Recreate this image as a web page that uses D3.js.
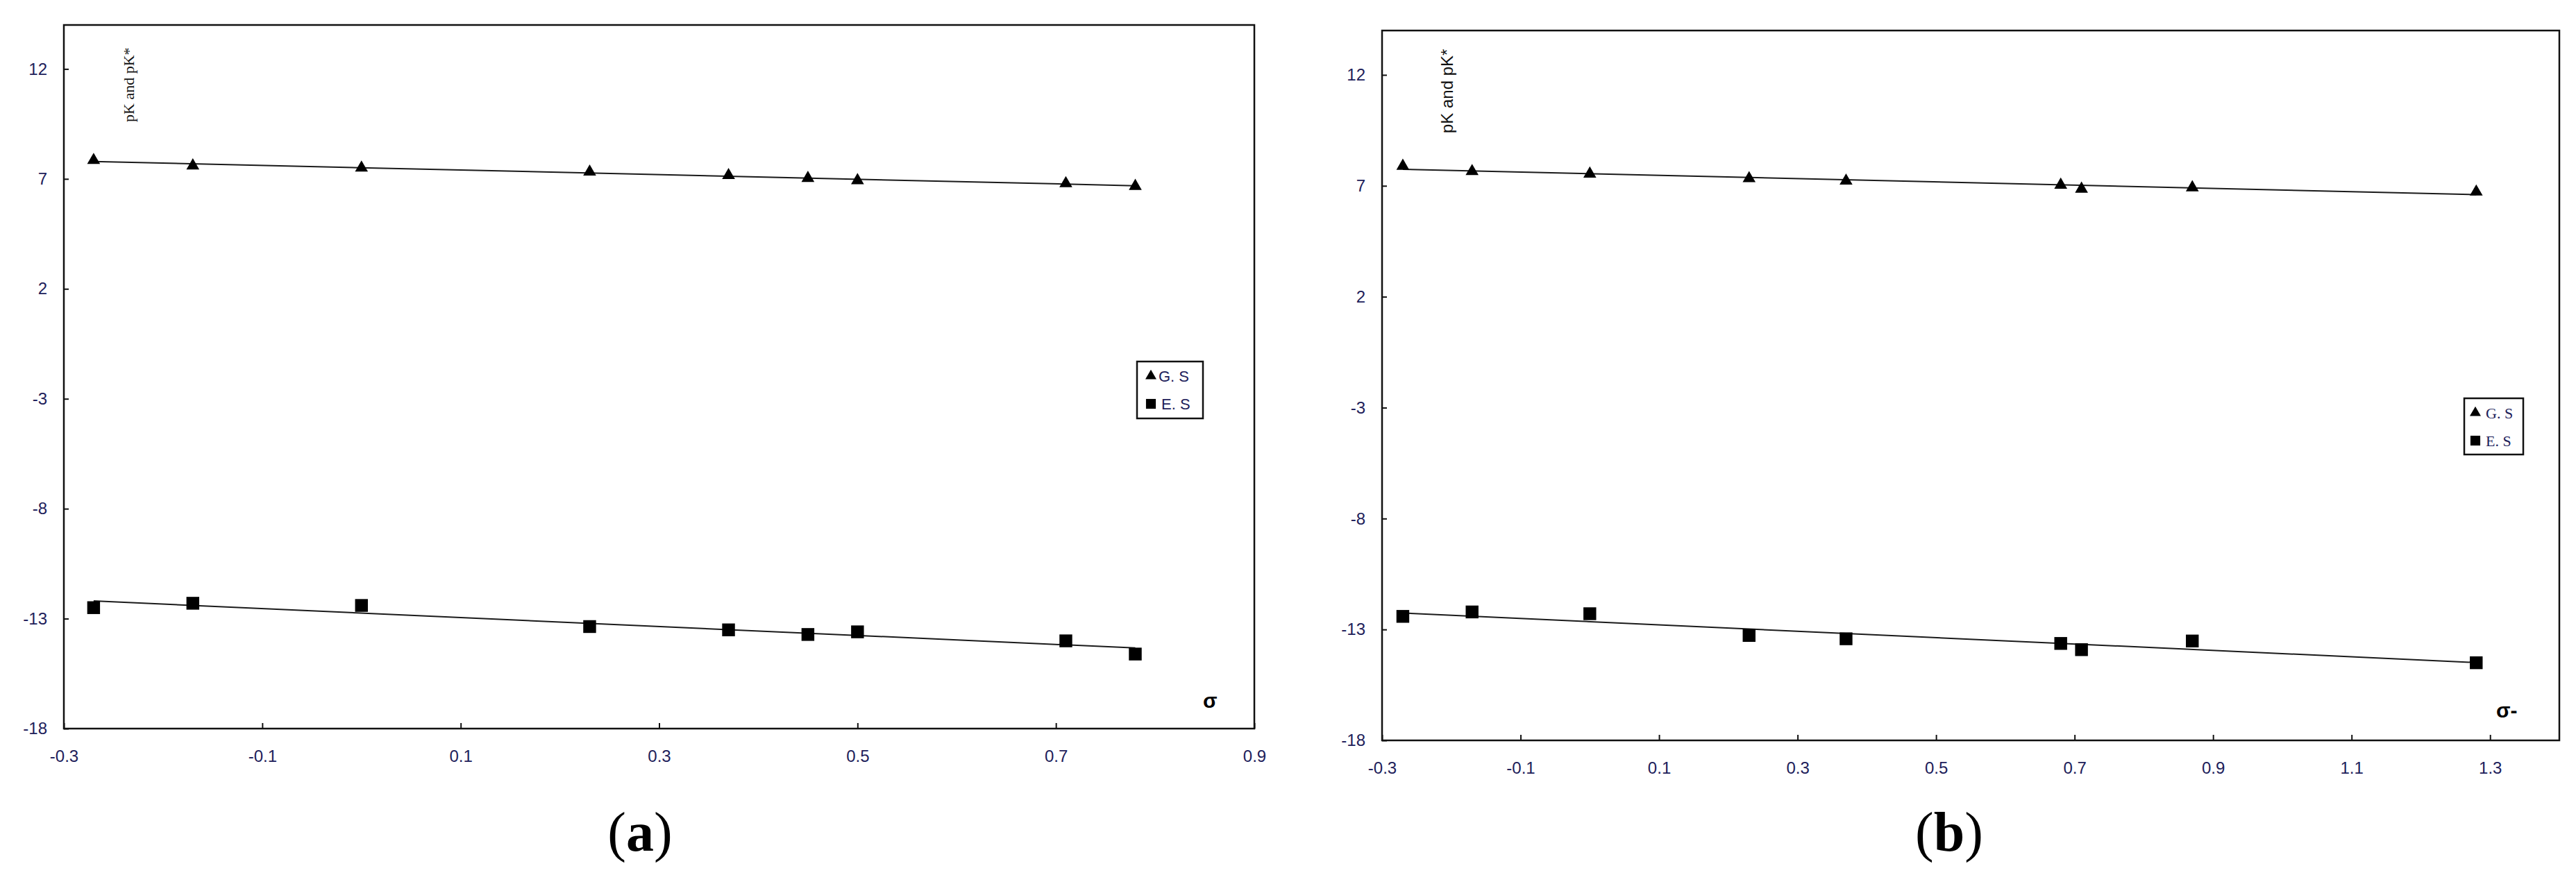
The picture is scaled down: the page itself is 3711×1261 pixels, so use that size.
<!DOCTYPE html>
<html>
<head>
<meta charset="utf-8">
<script src="https://cdn.jsdelivr.net/npm/d3@7"></script>
<style>
  html, body { margin: 0; padding: 0; background: #fff; }
  .tick text { font-family: "Liberation Sans", Arial, sans-serif; font-size: 24px; fill: #20205a; }
</style>
</head>
<body>
<svg id="chart" width="3711" height="1261"></svg>
<script>
// sigma constants (x) for the two plots
const sigmaA = [-0.27, -0.17, 0, 0.23, 0.37, 0.45, 0.50, 0.71, 0.78];
const sigmaB = [-0.27, -0.17, 0, 0.23, 0.37, 0.68, 0.71, 0.87, 1.28];

// pK (ground state) and pK* (excited state)
const groundA  = [7.85, 7.60, 7.50, 7.32, 7.16, 7.03, 6.93, 6.79, 6.67];
const excitedA = [-12.50, -12.30, -12.40, -13.36, -13.51, -13.72, -13.60, -14.01, -14.61];
const groundB  = [7.89, 7.65, 7.54, 7.33, 7.22, 7.04, 6.86, 6.92, 6.73];
const excitedB = [-12.41, -12.21, -12.29, -13.27, -13.42, -13.63, -13.91, -13.52, -14.50];

// tick labels
const yTicks  = [-18, -13, -8, -3, 2, 7, 12];
const xTicksA = [-0.3, -0.1, 0.1, 0.3, 0.5, 0.7, 0.9];
const xTicksB = [-0.3, -0.1, 0.1, 0.3, 0.5, 0.7, 0.9, 1.1, 1.3];
const seriesNames = ["G. S", "E. S"];

const svg = d3.select("#chart");

// least squares line, like the spreadsheet trendline
function fit(xs, ys) {
  const mx = d3.mean(xs), my = d3.mean(ys);
  const b = d3.sum(xs, (x, i) => (x - mx) * (ys[i] - my)) / d3.sum(xs, x => (x - mx) * (x - mx));
  return x => my + b * (x - mx);
}

function drawPanel(p) {
  const x = d3.scaleLinear().domain(p.xDomain).range([p.left, p.right]);
  const y = d3.scaleLinear().domain([-18, 14]).range([p.bottom, p.top]);
  const g = svg.append("g");

  // plot frame
  g.append("rect")
    .attr("x", p.left).attr("y", p.top)
    .attr("width", p.right - p.left).attr("height", p.bottom - p.top)
    .attr("fill", "none").attr("stroke", "#111").attr("stroke-width", 2.5);

  // axes (plain hyphen for minus, as in the original)
  const ya = g.append("g").attr("transform", `translate(${p.left},0)`)
    .call(d3.axisLeft(y).tickValues(yTicks).tickFormat(d => String(d))
      .tickSizeInner(-7).tickSizeOuter(0).tickPadding(24));
  const xa = g.append("g").attr("transform", `translate(0,${p.bottom})`)
    .call(d3.axisBottom(x).tickValues(p.xTicks).tickFormat(d => d.toFixed(1))
      .tickSizeInner(-8).tickSizeOuter(0).tickPadding(31));
  [ya, xa].forEach(a => {
    a.select(".domain").remove();
    a.selectAll(".tick line").attr("stroke", "#111").attr("stroke-width", 2);
  });

  // trend lines and markers
  const ext = d3.extent(p.sigma);
  [p.ground, p.excited].forEach((vals, k) => {
    const f = fit(p.sigma, vals);
    g.append("line")
      .attr("x1", x(ext[0])).attr("y1", y(f(ext[0])))
      .attr("x2", x(ext[1])).attr("y2", y(f(ext[1])))
      .attr("stroke", "#1a1a1a").attr("stroke-width", 2);
    const sym = k === 0 ? d3.symbol(d3.symbolTriangle, 150) : d3.symbol(d3.symbolSquare, 340);
    g.selectAll(null).data(vals).enter().append("path")
      .attr("d", sym)
      .attr("transform", (d, i) => `translate(${x(p.sigma[i])},${y(d)})`)
      .attr("fill", "#000");
  });

  // vertical label inside plot
  g.append("text")
    .attr("transform", `translate(${p.yLabelX},${p.yLabelY}) rotate(-90)`)
    .attr("font-family", p.yLabelFont).attr("font-size", p.yLabelSize)
    .attr("fill", "#111")
    .text("pK and pK*");

  // sigma label
  g.append("text")
    .attr("x", p.sigmaX).attr("y", p.sigmaY)
    .attr("font-family", "'Liberation Sans', Arial, sans-serif")
    .attr("font-size", 30).attr("font-weight", "bold")
    .text(p.sigmaText);

  // legend
  const lg = g.append("g").attr("transform", `translate(${p.legend[0]},${p.legend[1]})`);
  lg.append("rect").attr("width", p.legend[2]).attr("height", p.legend[3])
    .attr("fill", "#fff").attr("stroke", "#111").attr("stroke-width", 2.5);
  seriesNames.forEach((name, k) => {
    const cy = 21 + k * 40;
    const sym = k === 0 ? d3.symbol(d3.symbolTriangle, 110) : d3.symbol(d3.symbolSquare, 200);
    lg.append("path").attr("d", sym)
      .attr("transform", `translate(${p.legendSym},${cy})`).attr("fill", "#000");
    lg.append("text")
      .attr("x", p.legendText + (k === 1 ? p.legendShift : 0)).attr("y", cy + 8)
      .attr("font-family", p.legendFont).attr("font-size", 22)
      .attr("fill", "#20205a")
      .text(name);
  });

  // panel caption
  const cap = svg.append("text")
    .attr("x", p.capX).attr("y", 1226).attr("text-anchor", "middle")
    .attr("font-family", "'Liberation Serif', 'Times New Roman', serif")
    .attr("font-size", 80).attr("fill", "#000");
  cap.append("tspan").text("(");
  cap.append("tspan").attr("font-weight", "bold").text(p.capLetter);
  cap.append("tspan").text(")");
}

drawPanel({
  xDomain: [-0.3, 0.9], xTicks: xTicksA,
  left: 92, right: 1807, top: 36, bottom: 1050,
  sigma: sigmaA, ground: groundA, excited: excitedA,
  yLabelX: 193, yLabelY: 176, yLabelFont: "'Liberation Serif', 'Times New Roman', serif", yLabelSize: 22,
  sigmaX: 1733, sigmaY: 1020, sigmaText: "σ",
  legend: [1638, 521, 95, 82], legendSym: 20, legendText: 31, legendShift: 4,
  legendFont: "'Liberation Sans', Arial, sans-serif",
  capX: 922, capLetter: "a"
});

drawPanel({
  xDomain: [-0.3, 1.4], xTicks: xTicksB,
  left: 1991, right: 3687, top: 44, bottom: 1067,
  sigma: sigmaB, ground: groundB, excited: excitedB,
  yLabelX: 2093, yLabelY: 192, yLabelFont: "'Liberation Sans', Arial, sans-serif", yLabelSize: 24,
  sigmaX: 3596, sigmaY: 1034, sigmaText: "σ-",
  legend: [3550, 574, 85, 81], legendSym: 16, legendText: 31, legendShift: 0,
  legendFont: "'Liberation Serif', 'Times New Roman', serif",
  capX: 2808, capLetter: "b"
});
</script>
</body>
</html>
